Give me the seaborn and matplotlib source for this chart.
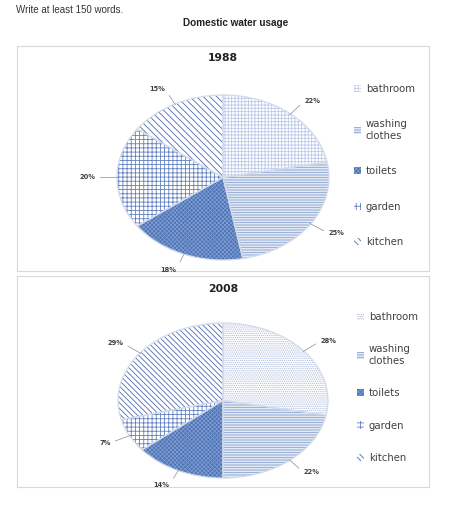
import numpy as np
import matplotlib
matplotlib.use("Agg")
import matplotlib.pyplot as plt
import seaborn as sns
from matplotlib.patches import Patch

sns.set_theme(style="white")
plt.rcParams["font.family"] = ["DejaVu Sans"]
plt.rcParams["hatch.linewidth"] = 0.6

# ---------------- data ----------------
categories = ["bathroom", "washing clothes", "toilets", "garden", "kitchen"]
legend_labels = ["bathroom", "washing\nclothes", "toilets", "garden", "kitchen"]
usage_1988 = [22, 25, 18, 20, 15]
usage_2008 = [28, 22, 14, 7, 29]
years = ["1988", "2008"]

blue = sns.color_palette("deep")[0]
face_cols = ["white", "white", blue, "white", "white"]
hatch_cols_1988 = ["#bccae8", "#8aa3d2", "#7d9bd4", "#6381c0", "#4d6cae"]
hatch_cols_2008 = ["#a9b9dc", "#8aa3d2", "#7d9bd4", "#6381c0", "#4d6cae"]
hatches_1988 = ["+" * 5, "-" * 10, "x" * 8, "+" * 4, "\\" * 5]
hatches_2008 = ["." * 8, "-" * 10, "x" * 8, "+" * 4, "\\" * 6]

W, H = 455, 512
fig = plt.figure(figsize=(W / 100, H / 100), dpi=100)

fig.text(16 / W, 1 - 10 / H, "Write at least 150 words.", fontsize=7,
         family="Liberation Sans", color="#333333", va="center", ha="left")
fig.text(236 / W, 1 - 23 / H, "Domestic water usage", fontsize=7.2,
         family="Liberation Sans", weight="bold", color="#222222",
         va="center", ha="center")

# panel frames (left, top, right, bottom in px)
panels = [(17, 46, 429, 271), (17, 276, 429, 487)]
pie_boxes = [(117, 95, 329, 260), (118, 323, 328, 478)]
title_y = [58, 289]
legend_pos = [(354, 84), (357, 312)]
legend_gap = [2.5, 2.2]
datasets = [usage_1988, usage_2008]
hatch_sets = [hatches_1988, hatches_2008]
hcol_sets = [hatch_cols_1988, hatch_cols_2008]


def fig_rect(l, t, r, b):
    return [l / W, 1 - b / H, (r - l) / W, (b - t) / H]


for i in range(2):
    bg = fig.add_axes(fig_rect(*panels[i]), zorder=0)
    bg.set_xticks([])
    bg.set_yticks([])
    bg.set_facecolor("white")
    for s in bg.spines.values():
        s.set_color("#d9d9d9")
        s.set_linewidth(0.8)

    fig.text(223 / W, 1 - title_y[i] / H, years[i], fontsize=7.8,
             weight="bold", color="#222222", ha="center", va="center")

    ax = fig.add_axes(fig_rect(*pie_boxes[i]), zorder=1)
    vals = datasets[i]
    wedges, _ = ax.pie(vals, startangle=90, counterclock=False,
                       colors=face_cols, hatch=hatch_sets[i],
                       wedgeprops=dict(linewidth=0))
    for w, hc in zip(wedges, hcol_sets[i]):
        w.set_edgecolor(hc)
    # light outlines on top
    ax.pie(vals, startangle=90, counterclock=False,
           wedgeprops=dict(facecolor="none", edgecolor="#d3dbea", linewidth=0.9))
    ax.set_aspect("auto")
    ax.set_xlim(-1, 1)
    ax.set_ylim(-1, 1)
    ax.axis("off")

    for w, v in zip(wedges, vals):
        mid = np.deg2rad((w.theta1 + w.theta2) / 2)
        c, s = np.cos(mid), np.sin(mid)
        if c > 0.15:
            ha, rp = "left", (0, 0.5)
        elif c < -0.15:
            ha, rp = "right", (1, 0.5)
        else:
            ha, rp = "center", (0.5, 0.5)
        ax.annotate(f"{v}%", xy=(0.99 * c, 0.99 * s), xytext=(1.2 * c, 1.2 * s),
                    fontsize=4.8, weight="bold", color="#404040",
                    ha=ha, va="center", annotation_clip=False,
                    arrowprops=dict(arrowstyle="-", color="#8c8c8c", lw=0.5,
                                    shrinkA=1, shrinkB=0, relpos=rp))

    handles = [Patch(facecolor=fc, edgecolor=hc, hatch=h, linewidth=0)
               for fc, hc, h in zip(face_cols, hcol_sets[i], hatch_sets[i])]
    lx, ly = legend_pos[i]
    fig.legend(handles, legend_labels, loc="upper left",
               bbox_to_anchor=(lx / W, 1 - ly / H), frameon=False,
               fontsize=7.3, labelcolor="#404040", handlelength=0.7,
               handleheight=0.7, handletextpad=0.45, borderpad=0,
               borderaxespad=0, labelspacing=legend_gap[i])

fig.savefig("out.png", dpi=100, facecolor="white")
